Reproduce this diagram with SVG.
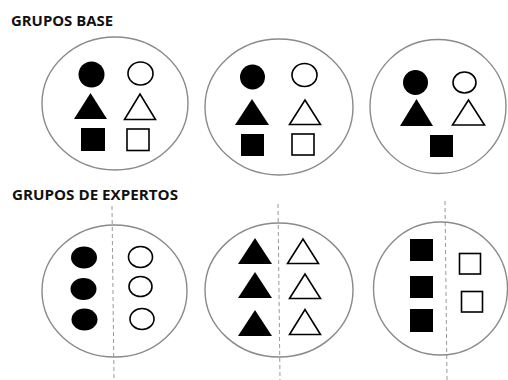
<svg xmlns="http://www.w3.org/2000/svg" width="508" height="380" viewBox="0 0 508 380">
  <style>
    .title { font-family: "Open Sans", "Liberation Sans", sans-serif; font-weight: bold; font-size: 13.5px; fill: #111; }
    .group { fill: none; stroke: #8a8a8a; stroke-width: 1.4; }
    .solid { fill: #000; stroke: none; }
    .hollow { fill: #fff; stroke: #000; stroke-width: 1.6; }
    .divider { stroke: #999; stroke-width: 1; stroke-dasharray: 4 3; fill: none; }
  </style>
  <rect width="508" height="380" fill="#fff"/>

  <text class="title" x="11" y="26" textLength="102" lengthAdjust="spacingAndGlyphs">GRUPOS BASE</text>
  <text class="title" x="12" y="200" textLength="166" lengthAdjust="spacingAndGlyphs">GRUPOS DE EXPERTOS</text>

  <!-- base groups -->
  <g id="base-1">
    <ellipse class="group" cx="115" cy="103.5" rx="73" ry="66.5"/>
    <circle class="solid" cx="91.5" cy="74.5" r="13"/>
    <ellipse class="hollow" cx="140.5" cy="73.5" rx="12.5" ry="11.5"/>
    <polygon class="solid" points="74,119 107,119 90.5,93"/>
    <polygon class="hollow" points="124.5,119.5 155.5,119.5 140,94"/>
    <rect class="solid" x="81" y="128" width="24" height="23"/>
    <rect class="hollow" x="127" y="129" width="22" height="21.5"/>
  </g>

  <g id="base-2">
    <ellipse class="group" cx="279" cy="107" rx="74" ry="68"/>
    <circle class="solid" cx="252.5" cy="77" r="12.5"/>
    <ellipse class="hollow" cx="304.5" cy="75" rx="12.5" ry="11.5"/>
    <polygon class="solid" points="235,125 269,125 252,99"/>
    <polygon class="hollow" points="289.5,124.5 320.5,124.5 305,100"/>
    <rect class="solid" x="241" y="134" width="23" height="22"/>
    <rect class="hollow" x="292" y="134" width="22" height="21"/>
  </g>

  <g id="base-3">
    <ellipse class="group" cx="438" cy="106.5" rx="68" ry="67"/>
    <circle class="solid" cx="415.5" cy="82.5" r="12.5"/>
    <ellipse class="hollow" cx="464.5" cy="82.5" rx="11.5" ry="10.5"/>
    <polygon class="solid" points="400,126 433,126 416.5,99"/>
    <polygon class="hollow" points="452.5,125 484.5,125 468.5,100"/>
    <rect class="solid" x="430" y="135" width="23" height="22"/>
  </g>

  <!-- dividers between the two halves of each expert group -->
  <g id="connectors">
    <line class="divider" x1="112" y1="206" x2="114" y2="380"/>
    <line class="divider" x1="278" y1="204" x2="280" y2="380"/>
    <line class="divider" x1="445" y1="201" x2="447" y2="380"/>
  </g>

  <!-- expert groups -->
  <g id="experts-1">
    <ellipse class="group" cx="114.5" cy="291" rx="72.5" ry="66"/>
    <ellipse class="solid" cx="84" cy="257.5" rx="13" ry="11"/>
    <ellipse class="solid" cx="83.5" cy="289" rx="13" ry="11"/>
    <ellipse class="solid" cx="84.5" cy="319.5" rx="13" ry="11"/>
    <ellipse class="hollow" cx="140.5" cy="257" rx="12" ry="10.5"/>
    <ellipse class="hollow" cx="140.5" cy="286.5" rx="11.5" ry="10"/>
    <ellipse class="hollow" cx="142" cy="319" rx="12" ry="10.5"/>
  </g>

  <g id="experts-2">
    <ellipse class="group" cx="279" cy="290" rx="74" ry="67"/>
    <polygon class="solid" points="238,264 272,264 255,238"/>
    <polygon class="solid" points="238,298 272,298 255,272"/>
    <polygon class="solid" points="238,336 272,336 255,310"/>
    <polygon class="hollow" points="287.5,263.5 318.5,263.5 303,239"/>
    <polygon class="hollow" points="289.5,298.5 320.5,298.5 305,274"/>
    <polygon class="hollow" points="289.5,334.5 320.5,334.5 305,309.5"/>
  </g>

  <g id="experts-3">
    <ellipse class="group" cx="440.5" cy="288.5" rx="67" ry="66.5"/>
    <rect class="solid" x="410" y="239" width="23" height="22"/>
    <rect class="solid" x="410" y="276" width="23" height="22"/>
    <rect class="solid" x="410" y="309" width="23" height="23"/>
    <rect class="hollow" x="459.5" y="253.5" width="21" height="20.5"/>
    <rect class="hollow" x="461.5" y="291.5" width="21" height="20.5"/>
  </g>
</svg>
